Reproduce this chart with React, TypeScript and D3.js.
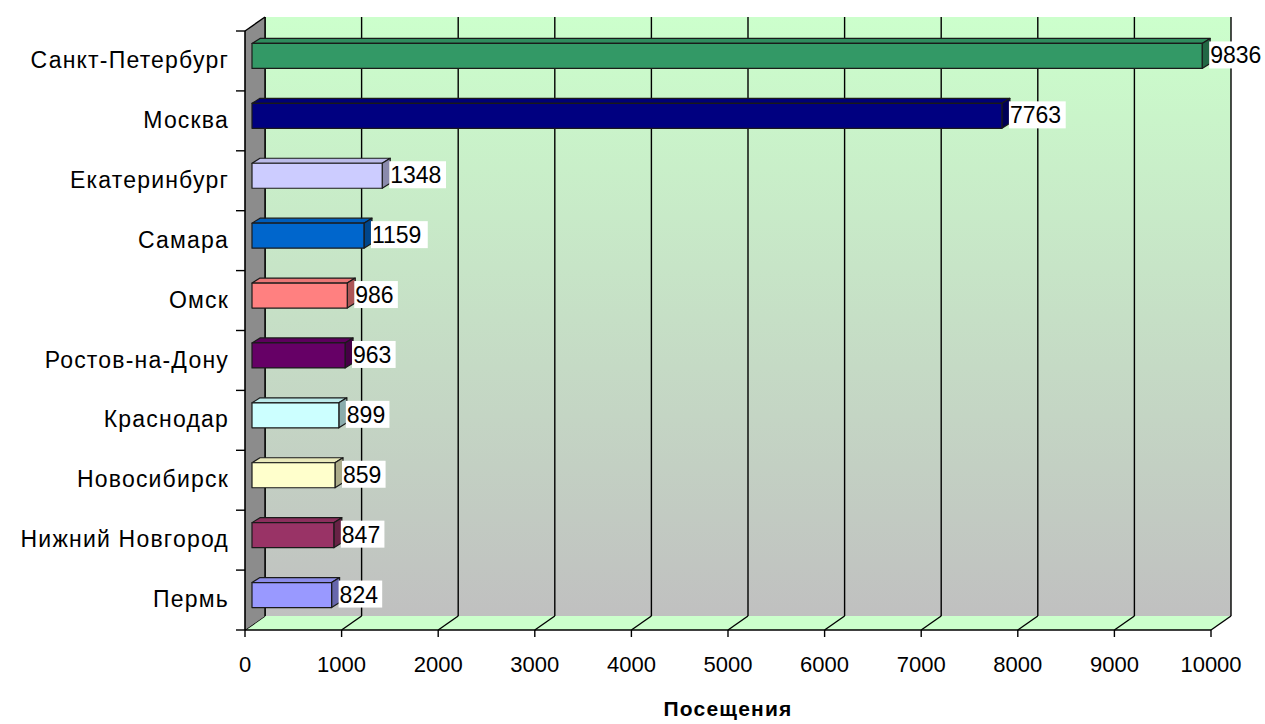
import React from "react";
import * as d3 from "d3";

const cities = [
  "Санкт-Петербург",
  "Москва",
  "Екатеринбург",
  "Самара",
  "Омск",
  "Ростов-на-Дону",
  "Краснодар",
  "Новосибирск",
  "Нижний Новгород",
  "Пермь",
];
const visits = [9836, 7763, 1348, 1159, 986, 963, 899, 859, 847, 824];
const barColors = [
  "#339966",
  "#000080",
  "#ccccff",
  "#0066cc",
  "#ff8080",
  "#660066",
  "#ccffff",
  "#ffffcc",
  "#993366",
  "#9999ff",
];
const xTicks = [0, 1000, 2000, 3000, 4000, 5000, 6000, 7000, 8000, 9000, 10000];
const axisTitle = "Посещения";

const W = 1265;
const H = 724;
// front plane of the plot
const left = 245;
const right = 1211;
const top = 31;
const bottom = 630;
// wall depth
const dx = 20;
const dy = -14;
// bar depth
const bdx = 8;
const bdy = -5;
const font = "'Liberation Sans', Arial, sans-serif";

export default function App() {
  const x = d3.scaleLinear().domain([0, 10000]).range([left, right]);
  const y = d3.scaleBand<string>().domain(cities).range([top, bottom]);
  const bw = y.bandwidth();
  const barH = 25;

  const backTop = top + dy;
  const backBottom = bottom + dy;

  return (
    <svg
      width={W}
      height={H}
      style={{ position: "absolute", left: 0, top: 0, background: "#fff" }}
    >
      <defs>
        <linearGradient id="wall" x1="0" y1="0" x2="0" y2="1">
          <stop offset="0%" stopColor="#ccffcc" />
          <stop offset="100%" stopColor="#c0c0c0" />
        </linearGradient>
      </defs>

      {/* back wall */}
      <rect
        x={left + dx}
        y={backTop}
        width={right - left}
        height={backBottom - backTop}
        fill="url(#wall)"
      />

      {/* floor */}
      <polygon
        points={`${left},${bottom} ${left + dx},${backBottom} ${right + dx},${backBottom} ${right},${bottom}`}
        fill="#ccffcc"
      />

      {/* grid lines on wall and floor */}
      {xTicks.map((t) => (
        <g key={t} stroke="#000" strokeWidth={1.4}>
          <line x1={x(t) + dx} x2={x(t) + dx} y1={backTop} y2={backBottom} />
          <line x1={x(t) + dx} x2={x(t)} y1={backBottom} y2={bottom} />
          <line x1={x(t)} x2={x(t)} y1={bottom} y2={bottom + 7} />
        </g>
      ))}

      {/* left wall */}
      <polygon
        points={`${left},${top} ${left + dx},${backTop} ${left + dx},${backBottom} ${left},${bottom}`}
        fill="#8c8c8c"
      />
      <line x1={left} y1={top} x2={left + dx} y2={backTop} stroke="#000" strokeWidth={1.4} />
      <line x1={left + dx} y1={backTop} x2={left + dx} y2={backBottom} stroke="#000" strokeWidth={1.4} />

      {/* axes */}
      <line x1={left} x2={left} y1={top} y2={bottom} stroke="#000" strokeWidth={1.6} />
      <line x1={left} x2={right} y1={bottom} y2={bottom} stroke="#000" strokeWidth={1.6} />
      {cities.map((c) => (
        <line
          key={c}
          x1={left - 9}
          x2={left}
          y1={y(c)!}
          y2={y(c)!}
          stroke="#000"
          strokeWidth={1.4}
        />
      ))}
      <line x1={left - 9} x2={left} y1={bottom} y2={bottom} stroke="#000" strokeWidth={1.4} />

      {/* bars */}
      {cities.map((c, i) => {
        const cy = y(c)! + bw / 2 - 5;
        const y0 = cy - barH / 2;
        const y1 = cy + barH / 2;
        const x0 = x(0) + 7;
        const x1 = x(visits[i]) + 7;
        const col = d3.color(barColors[i])!;
        const topCol = col.darker(0.25).formatHex();
        const sideCol = col.darker(1.1).formatHex();
        return (
          <g key={c} stroke="#1a1a1a" strokeWidth={1.2} strokeLinejoin="round">
            <polygon
              points={`${x0},${y0} ${x0 + bdx},${y0 + bdy} ${x1 + bdx},${y0 + bdy} ${x1},${y0}`}
              fill={topCol}
            />
            <polygon
              points={`${x1},${y0} ${x1 + bdx},${y0 + bdy} ${x1 + bdx},${y1 + bdy} ${x1},${y1}`}
              fill={sideCol}
            />
            <rect x={x0} y={y0} width={x1 - x0} height={barH} fill={barColors[i]} />
          </g>
        );
      })}

      {/* value labels */}
      {cities.map((c, i) => {
        const cy = y(c)! + bw / 2 - 6;
        const lx = x(visits[i]) + 7 + bdx - 1;
        const txt = String(visits[i]);
        const boxW = txt.length * 13.2 + 4;
        return (
          <g key={c}>
            <rect x={lx} y={cy - 13.5} width={boxW} height={27} fill="#fff" />
            <text
              x={lx + 1}
              y={cy + 8.5}
              fontFamily={font}
              fontSize={23}
              fill="#000"
            >
              {txt}
            </text>
          </g>
        );
      })}

      {/* category labels */}
      {cities.map((c) => (
        <text
          key={c}
          x={229}
          y={y(c)! + bw / 2 - 1}
          dy="0.35em"
          textAnchor="end"
          fontFamily={font}
          fontSize={23}
          letterSpacing={1.2}
          fill="#000"
        >
          {c}
        </text>
      ))}

      {/* x tick labels */}
      {xTicks.map((t) => (
        <text
          key={t}
          x={x(t)}
          y={672}
          textAnchor="middle"
          fontFamily={font}
          fontSize={22}
          fill="#000"
        >
          {t}
        </text>
      ))}

      {/* axis title */}
      <text
        x={(left + right) / 2}
        y={716}
        textAnchor="middle"
        fontFamily={font}
        fontSize={21}
        fontWeight="bold"
        letterSpacing={1.2}
        fill="#000"
      >
        {axisTitle}
      </text>
    </svg>
  );
}
